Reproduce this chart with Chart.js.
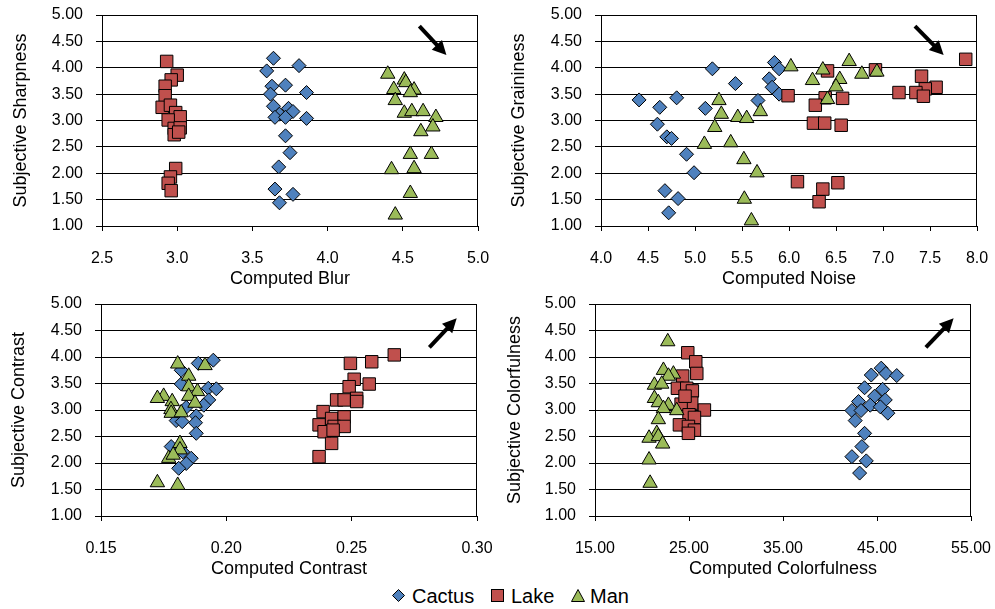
<!DOCTYPE html>
<html><head><meta charset="utf-8">
<script src="https://cdn.jsdelivr.net/npm/chart.js@4.4.0/dist/chart.umd.min.js"></script>
<style>
html,body{margin:0;padding:0;background:#fff}
body{width:995px;height:609px;overflow:hidden;position:relative;font-family:"Liberation Sans",Arial,sans-serif}
canvas{position:absolute;display:block}
.lt{position:absolute;font-size:20px;line-height:20px;color:#000}
.lm{position:absolute}
</style></head><body>
<canvas id="c1" width="497" height="290" style="left:0;top:0"></canvas>
<canvas id="c2" width="500" height="290" style="left:495px;top:0"></canvas>
<canvas id="c3" width="497" height="290" style="left:0;top:290px"></canvas>
<canvas id="c4" width="500" height="290" style="left:495px;top:290px"></canvas>
<div id="legend"></div>
<script>
// ---------- data ----------
const seriesNames = ['Cactus', 'Lake', 'Man'];
const yTickLabels = ['1.00','1.50','2.00','2.50','3.00','3.50','4.00','4.50','5.00'];

// Panel 1: Computed Blur vs Subjective Sharpness
const blurTicks = ['2.5','3.0','3.5','4.0','4.5','5.0'];
const blurCactusX = [3.64,3.81,3.595,3.63,3.72,3.62,3.86,3.64,3.74,3.77,3.68,3.65,3.72,3.86,3.72,3.75,3.675,3.65,3.77,3.68];
const blurCactusY = [4.18,4.04,3.94,3.65,3.67,3.50,3.53,3.27,3.23,3.17,3.12,3.06,3.06,3.04,2.71,2.39,2.12,1.70,1.60,1.44];
const blurLakeX = [2.93,3.00,2.96,2.92,2.92,2.90,2.955,2.99,3.02,2.94,2.98,3.02,2.98,3.01,2.99,2.955,2.94,2.96];
const blurLakeY = [4.12,3.86,3.77,3.65,3.47,3.25,3.29,3.15,3.07,3.01,2.85,2.86,2.73,2.78,2.09,1.93,1.81,1.67];
const blurManX = [4.40,4.51,4.52,4.44,4.575,4.55,4.45,4.51,4.56,4.635,4.72,4.70,4.62,4.55,4.69,4.425,4.575,4.55,4.45];
const blurManY = [3.88,3.77,3.72,3.59,3.58,3.53,3.38,3.14,3.17,3.17,3.06,2.88,2.79,2.36,2.36,2.07,2.09,1.62,1.21];
const blurArrow = [4.61,4.79,4.79,4.24];

// Panel 2: Computed Noise vs Subjective Graininess
const noiseTicks = ['4.0','4.5','5.0','5.5','6.0','6.5','7.0','7.5','8.0'];
const noiseCactusX = [4.405,4.625,4.805,4.60,4.70,4.75,4.91,4.99,4.68,4.82,4.72,5.185,5.11,5.43,5.67,5.845,5.895,5.79,5.82,5.895];
const noiseCactusY = [3.39,3.25,3.43,2.93,2.69,2.66,2.36,2.01,1.67,1.52,1.25,3.98,3.23,3.70,3.38,4.10,3.98,3.79,3.63,3.50];
const noiseLakeX = [7.88,7.41,7.565,7.45,7.35,7.17,7.43,6.92,6.41,5.99,6.385,6.57,6.28,6.26,6.38,6.555,6.09,6.52,6.36,6.32];
const noiseLakeY = [4.16,3.84,3.63,3.60,3.53,3.53,3.46,3.96,3.94,3.47,3.43,3.42,3.29,2.95,2.95,2.91,1.84,1.82,1.70,1.46];
const noiseManX = [6.02,6.64,6.36,6.775,6.935,6.25,6.54,6.50,6.41,5.255,5.28,5.455,5.55,5.695,5.21,5.10,5.38,5.52,5.66,5.525,5.60];
const noiseManY = [4.02,4.12,3.96,3.88,3.92,3.76,3.78,3.64,3.40,3.38,3.12,3.06,3.04,3.17,2.87,2.55,2.58,2.26,2.01,1.51,1.10];
const noiseArrow = [7.34,4.79,7.645,4.24];

// Panel 3: Computed Contrast vs Subjective Contrast
const contrastTicks = ['0.15','0.20','0.25','0.30'];
const contrastCactusX = [0.1948,0.1888,0.182,0.1928,0.196,0.182,0.193,0.191,0.184,0.188,0.180,0.1824,0.1877,0.188,0.178,0.1826,0.186,0.184,0.181];
const contrastCactusY = [3.94,3.88,3.75,3.41,3.40,3.49,3.19,3.09,3.05,2.89,2.80,2.78,2.76,2.56,2.31,2.21,2.09,1.99,1.90];
const contrastLakeX = [0.267,0.258,0.2495,0.251,0.257,0.249,0.244,0.247,0.252,0.252,0.2386,0.242,0.247,0.237,0.243,0.247,0.239,0.2426,0.242,0.237];
const contrastLakeY = [4.04,3.91,3.88,3.58,3.49,3.44,3.19,3.19,3.22,3.16,2.97,2.84,2.87,2.72,2.69,2.69,2.59,2.62,2.37,2.12];
const contrastManX = [0.1806,0.1915,0.185,0.185,0.1885,0.185,0.175,0.1725,0.1784,0.1875,0.1779,0.178,0.182,0.1815,0.1815,0.177,0.1788,0.1725,0.1806];
const contrastManY = [3.87,3.84,3.64,3.44,3.35,3.26,3.26,3.22,3.16,3.13,3.01,2.94,2.95,2.37,2.25,2.09,2.15,1.63,1.58];
const contrastArrow = [0.281,4.18,0.2919,4.73];

// Panel 4: Computed Colorfulness vs Subjective Colorfulness
const colorTicks = ['15.00','25.00','35.00','45.00','55.00'];
const colorCactusX = [45.45,45.95,44.39,47.1,43.68,45.6,44.74,43.04,45.88,44.28,45.35,42.33,43.3,46.16,42.68,43.68,43.39,42.33,43.86,43.15];
const colorCactusY = [3.79,3.69,3.66,3.65,3.42,3.39,3.26,3.16,3.19,3.09,3.06,2.99,2.99,2.94,2.80,2.56,2.31,2.12,2.04,1.81];
const colorLakeX = [24.87,25.72,25.83,24.33,23.77,24.76,25.36,25.29,24.16,26.64,25.0,25.58,23.98,24.94,25.58,24.94,24.58];
const colorLakeY = [4.08,3.91,3.69,3.64,3.41,3.41,3.36,3.13,3.11,3.00,2.91,2.86,2.72,2.69,2.62,2.56,3.26];
const colorManX = [22.74,22.28,23.34,22.81,21.32,22.1,21.32,21.74,22.81,23.7,22.28,21.74,21.57,20.75,21.74,22.2,20.75,20.86];
const colorManY = [4.29,3.75,3.68,3.64,3.47,3.49,3.22,3.14,3.09,2.99,3.03,2.82,2.56,2.47,2.50,2.36,2.06,1.62];
const colorArrow = [50.2,4.18,53.15,4.73];

// ---------- styling ----------
const fills = ['#4F81BD', '#C0504D', '#9BBB59'];
const shapes = ['rectRot', 'rect', 'triangle'];
const radii = [7, 8.8, 8.3];
const orders = [3, 2, 1];
const FONT = '"Liberation Sans", Arial, sans-serif';

function pts(xs, ys) { return xs.map((x, i) => ({x: x, y: ys[i]})); }

const framePlugin = {
  id: 'frame',
  beforeDatasetsDraw(chart) {
    const a = chart.chartArea, ctx = chart.ctx;
    ctx.save();
    ctx.strokeStyle = '#000'; ctx.lineWidth = 1;
    ctx.beginPath();
    ctx.moveTo(a.left, a.top + 0.5); ctx.lineTo(a.right, a.top + 0.5);
    ctx.moveTo(Math.round(a.right) - 0.5, a.top); ctx.lineTo(Math.round(a.right) - 0.5, a.bottom);
    ctx.stroke();
    ctx.restore();
  }
};
const arrowPlugin = {
  id: 'arrow',
  afterDatasetsDraw(chart, args, opts) {
    const ar = opts.coords; if (!ar) return;
    const sx = chart.scales.x, sy = chart.scales.y, ctx = chart.ctx;
    const x1 = sx.getPixelForValue(ar[0]), y1 = sy.getPixelForValue(ar[1]);
    const x2 = sx.getPixelForValue(ar[2]), y2 = sy.getPixelForValue(ar[3]);
    const ang = Math.atan2(y2 - y1, x2 - x1), hl = 14, hw = 7;
    const bx = x2 - hl * Math.cos(ang), by = y2 - hl * Math.sin(ang);
    ctx.save();
    ctx.strokeStyle = '#000'; ctx.fillStyle = '#000'; ctx.lineWidth = 4;
    ctx.beginPath(); ctx.moveTo(x1, y1); ctx.lineTo(bx + 2 * Math.cos(ang), by + 2 * Math.sin(ang)); ctx.stroke();
    ctx.beginPath();
    ctx.moveTo(x2, y2);
    ctx.lineTo(bx + hw * Math.sin(ang), by - hw * Math.cos(ang));
    ctx.lineTo(bx - hw * Math.sin(ang), by + hw * Math.cos(ang));
    ctx.closePath(); ctx.fill();
    ctx.restore();
  }
};

function makeChart(id, p) {
  const datasets = p.series.map((s, i) => ({
    label: seriesNames[i],
    data: pts(s[0], s[1]),
    pointStyle: shapes[i],
    pointRadius: radii[i],
    pointHoverRadius: radii[i],
    pointBackgroundColor: fills[i],
    pointBorderColor: '#000',
    pointBorderWidth: 1,
    showLine: false,
    order: orders[i]
  }));
  const xt = p.xTicks;
  return new Chart(document.getElementById(id), {
    type: 'scatter',
    data: {datasets: datasets},
    plugins: [framePlugin, arrowPlugin],
    options: {
      responsive: false, animation: false, events: [],
      layout: {padding: {left: 0, top: p.top, right: p.right, bottom: 0}},
      plugins: {legend: {display: false}, tooltip: {enabled: false}, arrow: {coords: p.arrow}},
      scales: {
        x: {
          type: 'linear', min: parseFloat(xt[0]), max: parseFloat(xt[xt.length - 1]),
          afterBuildTicks: s => { s.ticks = xt.map(v => ({value: parseFloat(v)})); },
          afterFit: s => { s.height = 64; s.paddingLeft = 0; s.paddingRight = 0; },
          ticks: {callback: (v, i) => xt[i], color: '#000', font: {family: FONT, size: 16}, padding: 18, maxRotation: 0, autoSkip: false},
          grid: {drawOnChartArea: false, drawTicks: true, tickLength: 5, color: '#000', lineWidth: 1},
          border: {display: true, color: '#000', width: 1},
          title: {display: true, text: p.xTitle, color: '#000', font: {family: FONT, size: 18}, padding: {top: 0, bottom: p.xTitlePad}}
        },
        y: {
          type: 'linear', min: 1, max: 5,
          afterBuildTicks: s => { s.ticks = yTickLabels.map(v => ({value: parseFloat(v)})); },
          afterFit: s => { s.width = p.yW; s.paddingTop = 0; s.paddingBottom = 0; },
          ticks: {callback: (v, i) => yTickLabels[i], color: '#000', font: {family: FONT, size: 16}, padding: 13},
          grid: {color: '#000', lineWidth: 1, tickLength: 6, drawTicks: true},
          border: {display: true, color: '#000', width: 1},
          title: {display: true, text: p.yTitle, color: '#000', font: {family: FONT, size: 18}, padding: {top: p.yTitlePad, bottom: 0}}
        }
      }
    }
  });
}

makeChart('c1', {xTicks: blurTicks, xTitle: 'Computed Blur', yTitle: 'Subjective Sharpness',
  series: [[blurCactusX, blurCactusY], [blurLakeX, blurLakeY], [blurManX, blurManY]],
  arrow: blurArrow, top: 15, right: 19, yW: 102, yTitlePad: 10, xTitlePad: 0});
makeChart('c2', {xTicks: noiseTicks, xTitle: 'Computed Noise', yTitle: 'Subjective Graininess',
  series: [[noiseCactusX, noiseCactusY], [noiseLakeX, noiseLakeY], [noiseManX, noiseManY]],
  arrow: noiseArrow, top: 15, right: 18, yW: 106, yTitlePad: 13, xTitlePad: 0});
makeChart('c3', {xTicks: contrastTicks, xTitle: 'Computed Contrast', yTitle: 'Subjective Contrast',
  series: [[contrastCactusX, contrastCactusY], [contrastLakeX, contrastLakeY], [contrastManX, contrastManY]],
  arrow: contrastArrow, top: 14, right: 20, yW: 101, yTitlePad: 8, xTitlePad: 0});
makeChart('c4', {xTicks: colorTicks, xTitle: 'Computed Colorfulness', yTitle: 'Subjective Colorfulness',
  series: [[colorCactusX, colorCactusY], [colorLakeX, colorLakeY], [colorManX, colorManY]],
  arrow: colorArrow, top: 14, right: 24, yW: 100, yTitlePad: 9, xTitlePad: 0});

// ---------- legend ----------
const legendPos = [[399, 412], [498, 511], [578, 590]];
const svgShapes = [
  '<polygon points="6.5,0.5 12.5,6.5 6.5,12.5 0.5,6.5" />',
  '<rect x="0.5" y="0.5" width="12" height="12" />',
  '<polygon points="7,0.5 13.5,12.5 0.5,12.5" />'
];
const lg = document.getElementById('legend');
seriesNames.forEach((n, i) => {
  const m = document.createElement('div');
  m.className = 'lm';
  m.style.left = (legendPos[i][0] - 7) + 'px';
  m.style.top = (596 - 7) + 'px';
  m.innerHTML = '<svg width="14" height="14"><g fill="' + fills[i] + '" stroke="#000" stroke-width="1">' + svgShapes[i] + '</g></svg>';
  lg.appendChild(m);
  const t = document.createElement('div');
  t.className = 'lt';
  t.style.left = legendPos[i][1] + 'px';
  t.style.top = (596 - 10) + 'px';
  t.textContent = n;
  lg.appendChild(t);
});
</script>
</body></html>
